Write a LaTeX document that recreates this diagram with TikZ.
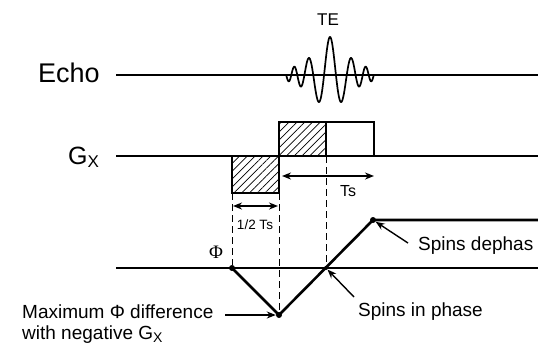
\documentclass[tikz,border=0pt]{standalone}
\usepackage{fontspec}
\setmainfont{Liberation Sans}
\newfontfamily\phifont{Liberation Serif}
\usetikzlibrary{patterns.meta,arrows.meta}
\begin{document}
\begin{tikzpicture}[x=1pt,y=-1pt,
  base/.style={line width=1.5pt},
  traj/.style={line width=2.6pt, line join=round},
  pulse/.style={line width=1.5pt},
  hatch/.style={pattern={Lines[angle=45,distance=5.5pt,line width=0.7pt]}},
  guide/.style={line width=0.9pt, dash pattern=on 7pt off 4pt},
  dimarrow/.style={line width=1.6pt, {Stealth[length=9pt,width=7pt]}-{Stealth[length=9pt,width=7pt]}},
  callout/.style={line width=1.4pt, -{Stealth[length=9pt,width=7pt]}},
  dot/.style={circle, fill, inner sep=0pt, minimum size=6pt},
  big/.style={inner sep=0pt, anchor=base west, font=\fontsize{27}{27}\selectfont},
  lbl/.style={inner sep=0pt, anchor=base west, font=\fontsize{19}{19}\selectfont},
  small/.style={inner sep=0pt, anchor=base, font=\fontsize{#1}{#1}\selectfont},
  declare function={envl(\u)=38*exp(-(sqrt((\u)*(\u)+36)-6)/20);
                    phs(\u)=15*(\u)+3.96*((\u)/10)*((\u)/10)*((\u)/10);},
]
\useasboundingbox (0,0) rectangle (538,349);

% ---- Echo row
\coordinate (eL) at (116,75);
\coordinate (eR) at (538,75);
\draw[base] (eL) -- (eR);
\draw[line width=1.7pt, line join=round] plot[domain=-43.8:43.8, samples=401, smooth]
  ({330+\x},{75-envl(\x)*cos(phs(\x))});
\node[big] (echo) at (38,82.5) {Echo};
\node[small=17] (te) at (328,25) {TE};

% ---- Gx row
\coordinate (gL) at (116,156);
\coordinate (gR) at (538,156);
\draw[base] (gL) -- (gR);
\node[big, font=\fontsize{25}{25}\selectfont] (gx) at (68,164) {G\raisebox{-3pt}{\fontsize{17}{17}\selectfont X}};
\draw[pulse, hatch] (232,156) rectangle (279,193);
\draw[pulse, hatch] (279,122) rectangle (326,156);
\draw[pulse] (326,122) rectangle (374,156);

% dimension arrows
\coordinate (tsA) at (282,176);
\coordinate (tsB) at (374,176);
\draw[dimarrow] (tsA) -- (tsB);
\node[small=16] (ts) at (348,196) {Ts};
\coordinate (hA) at (233,206);
\coordinate (hB) at (278,206);
\draw[dimarrow] (hA) -- (hB);
\node[small=13.5] (half) at (255,229) {1/2 Ts};

% ---- Phase row
\coordinate (pL) at (116,268);
\coordinate (pR) at (538,268);
\draw[base] (pL) -- (pR);

\node[dot] (p0) at (232,268) {};
\node[dot] (pmin) at (279,315) {};
\node[dot, minimum size=4pt] (pzero) at (326,268) {};
\node[dot] (pmax) at (373,220) {};
\coordinate (pend) at (538,220);
\draw[traj] (p0.center) -- (pmin.center) -- (pmax.center) -- (pend);

% guides
\draw[guide] (232,193) -- (p0);
\draw[guide] (279,193) -- (pmin);
\draw[guide] (326,156) -- (pzero);

\node[inner sep=0pt, font=\phifont\fontsize{19}{19}\selectfont] (phi) at (216,252) {Φ};

% callouts
\node[lbl] (deph) at (418,250) {Spins dephas};
\draw[callout] (408,243) -- (pmax);
\node[lbl] (inph) at (358,316) {Spins in phase};
\draw[callout] (354,297) -- (pzero);
\node[lbl] (maxd) at (22,318) {Maximum Φ difference};
\node[lbl] (maxd2) at (22,339) {with negative G\raisebox{-3pt}{\fontsize{14}{14}\selectfont X}};
\draw[callout] (225,315) -- (pmin);
\end{tikzpicture}
\end{document}
